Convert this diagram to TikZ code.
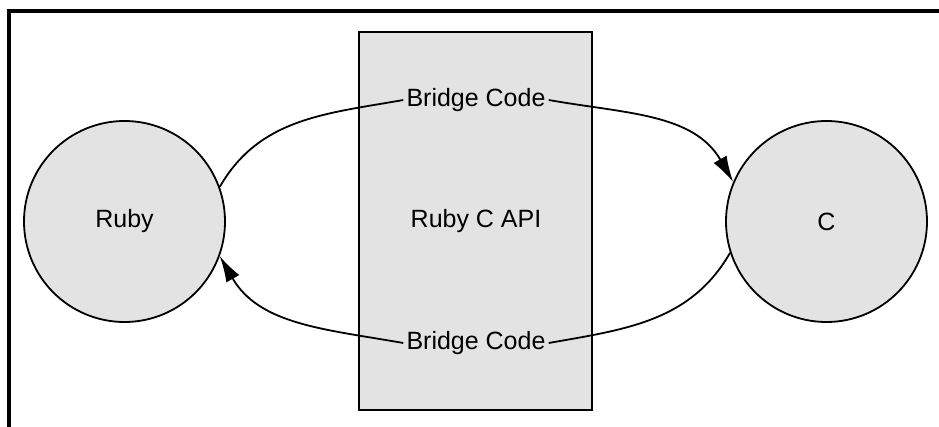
\documentclass[tikz,border=0pt]{standalone}
\usepackage{fontspec}
\setmainfont{Liberation Sans}
\usetikzlibrary{arrows.meta}
\definecolor{boxgray}{RGB}{227,227,227}
\tikzset{
  x=1pt, y=1pt,
  blob/.style={circle, draw=black, fill=boxgray, line width=1.8pt, minimum size=201pt, inner sep=0pt},
  lbl/.style={font=\fontsize{25}{29}\selectfont, inner sep=3pt},
  conn/.style={line width=1.8pt},
  arr/.style={conn, -{Latex[length=26pt,width=15pt]}},
  frame/.style={line width=3.5pt}
}
\begin{document}
\begin{tikzpicture}
\useasboundingbox (0,0) rectangle (939,426);
\coordinate (fl) at (9,0);
\coordinate (fc) at (9,415);
\coordinate (fr) at (945,415);
\draw[frame, line cap=rect] (fl) -- (fc) -- (fr);
\node[draw=black, fill=boxgray, line width=1.8pt, minimum width=233pt, minimum height=378pt, inner sep=0pt] (api) at (475.5,205.25) {};
\node[lbl] (apilbl) at (476,204.5) {Ruby C API};
\node[blob] (ruby) at (124.5,204.5) {};
\node[lbl] at (ruby.center) {Ruby};
\node[blob] (c) at (826.5,204.5) {};
\node[lbl] at (c.center) {C};
\node[lbl] (top) at (476,326) {Bridge Code};
\node[lbl] (bot) at (476,83) {Bridge Code};
\draw[conn] (ruby.20) to[out=60,in=190] (top.west);
\draw[arr] (top.east) to[out=-10,in=120] (c.157);
\draw[conn] (c.198) to[out=240,in=10] (bot.east);
\draw[arr] (bot.west) to[out=170,in=300] (ruby.-20);
\end{tikzpicture}
\end{document}
